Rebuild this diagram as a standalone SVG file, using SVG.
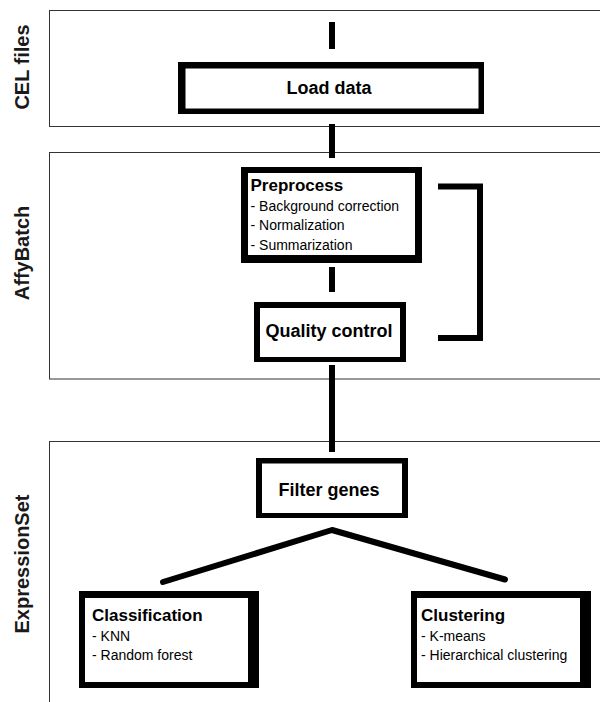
<svg xmlns="http://www.w3.org/2000/svg" width="600" height="702" viewBox="0 0 600 702">
<style>
.panel{fill:#fff;stroke:#333;stroke-width:1}
.plabel{font-family:"Liberation Sans",Arial,sans-serif;font-weight:bold;font-size:20px;fill:#1a1a1a;text-anchor:middle}
.frame{fill:#000}
.inner{fill:#fff}
.title{font-family:"Liberation Sans",Arial,sans-serif;font-weight:bold;font-size:18px;fill:#000}
.sub{font-family:"Liberation Sans",Arial,sans-serif;font-weight:bold;font-size:17px;fill:#000}
.item{font-family:"Liberation Sans",Arial,sans-serif;font-size:14px;fill:#000}
.mid{text-anchor:middle}
.conn{fill:none;stroke:#000;stroke-width:6}
</style>
<rect width="600" height="702" fill="#fff"/>
<g id="panels">
<rect class="panel" x="49.5" y="10.5" width="560" height="116"/>
<rect class="panel" x="49.5" y="152.5" width="560" height="226.5"/>
<rect class="panel" x="49.5" y="441.5" width="560" height="280"/>
<text class="plabel" transform="translate(29,67) rotate(-90)">CEL files</text>
<text class="plabel" transform="translate(29,253) rotate(-90)">AffyBatch</text>
<text class="plabel" transform="translate(29,564) rotate(-90)">ExpressionSet</text>
</g>
<g id="connectors">
<line class="conn" x1="332" y1="22" x2="332" y2="49"/>
<line class="conn" x1="332" y1="124" x2="332" y2="158"/>
<line class="conn" x1="332" y1="267" x2="332" y2="292"/>
<line class="conn" x1="332" y1="365" x2="332" y2="452"/>
<polyline class="conn" points="163,582 332,530 505,579.5" stroke-linecap="round" stroke-linejoin="round"/>
<path class="conn" d="M438,186.5 H480 V338 H438"/>
</g>
<g id="load-data">
<rect class="frame" x="178" y="62" width="306" height="52"/>
<rect class="inner" x="185.5" y="68.5" width="293" height="40"/>
<text class="title mid" x="329" y="94">Load data</text>
</g>
<g id="preprocess">
<rect class="frame" x="241" y="167" width="181" height="96"/>
<rect class="inner" x="248" y="173" width="167" height="82"/>
<text class="sub" x="250.5" y="190.5">Preprocess</text>
<text class="item" x="250.5" y="210.5">- Background correction</text>
<text class="item" x="250.5" y="230">- Normalization</text>
<text class="item" x="250.5" y="249.5">- Summarization</text>
</g>
<g id="quality-control">
<rect class="frame" x="254" y="302" width="152" height="60"/>
<rect class="inner" x="260" y="308" width="140" height="49"/>
<text class="title mid" x="329" y="336.5">Quality control</text>
</g>
<g id="filter-genes">
<rect class="frame" x="256" y="458" width="152" height="60"/>
<rect class="inner" x="262" y="463.5" width="140" height="49.5"/>
<text class="title mid" x="329" y="496">Filter genes</text>
</g>
<g id="classification">
<rect class="frame" x="79" y="591" width="180" height="97"/>
<rect class="inner" x="85" y="598" width="163" height="84"/>
<text class="sub" x="92" y="620.5">Classification</text>
<text class="item" x="92" y="640.5">- KNN</text>
<text class="item" x="92" y="660">- Random forest</text>
</g>
<g id="clustering">
<rect class="frame" x="411" y="591" width="180" height="97"/>
<rect class="inner" x="417" y="598" width="163" height="84"/>
<text class="sub" x="421" y="620.5">Clustering</text>
<text class="item" x="421" y="640.5">- K-means</text>
<text class="item" x="421" y="660">- Hierarchical clustering</text>
</g>
</svg>
